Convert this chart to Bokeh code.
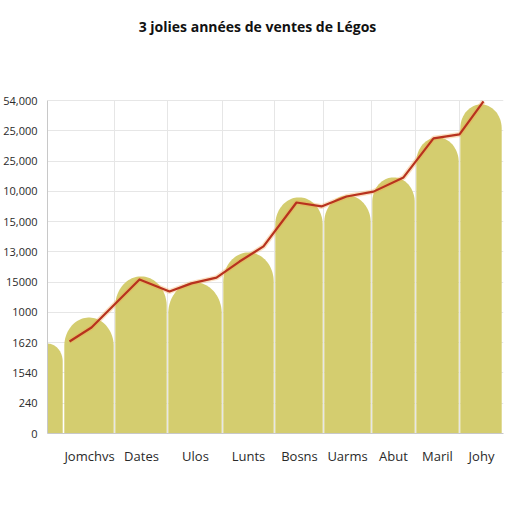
import numpy as np
from bokeh.plotting import figure
from bokeh.models import Range1d, FixedTicker
from bokeh.core.properties import value
from bokeh.embed import file_html
from bokeh.resources import INLINE

# ---- data ----
title_text = "3 jolies années de ventes de Légos"
y_tick_labels = ["0", "240", "1540", "1620", "1000", "15000", "13,000",
                 "15,000", "10,000", "25,000", "25,000", "54,000"]
x_labels = ["Jomchvs", "Dates", "Ulos", "Lunts", "Bosns", "Uarms", "Abut", "Maril", "Johy"]

bar_values = [2.97, 3.83, 5.19, 4.99, 5.98, 7.80, 7.86, 8.46, 9.78, 10.87]
bar_widths = [32, 51, 53, 55, 52, 49, 48, 44, 44, 43]

line_x = [22, 44, 69, 92, 122, 144, 169, 192, 216, 249, 274, 299, 326, 356, 386, 412, 436]
line_y = [3.04, 3.50, 4.33, 5.09, 4.69, 4.96, 5.15, 5.68, 6.18, 7.63, 7.50, 7.83,
          7.99, 8.46, 9.75, 9.88, 10.97]

# ---- layout ----
PX_PER_Y = 333 / 11
FW, FH = 456, 423
X0, X1 = 0, 456
Y0, YMAX = 0, 11
Y1 = FH / PX_PER_Y

p = figure(frame_width=FW, frame_height=FH, output_backend="svg", toolbar_location=None,
           x_range=Range1d(X0, X1), y_range=Range1d(Y0, Y1),
           min_border_left=39, min_border_right=1, min_border_top=10, min_border_bottom=55)
p.outline_line_color = None
p.background_fill_color = "white"

edges = np.concatenate([[-bar_widths[0] / 2], -bar_widths[0] / 2 + np.cumsum(bar_widths)])

# vertical grid lines at bar boundaries, limited to the value area
ge = [float(e) for e in edges[2:-1]]
p.segment(x0=ge, y0=[Y0] * len(ge), x1=ge, y1=[YMAX] * len(ge), line_color="#e6e6e6", line_width=1)

# bars with domed tops
xs, ys = [], []
for i, (h, w) in enumerate(zip(bar_values, bar_widths)):
    l, r = edges[i] + 0.8, edges[i + 1] - 0.8
    c = (l + r) / 2
    a = (r - l) / 2
    rise = (w * 0.56) / PX_PER_Y
    t = np.linspace(np.pi, 0, 48)
    dx = c + a * np.cos(t)
    dy = (h - rise) + rise * np.sin(t)
    xs.append(list(np.concatenate([[l], dx, [r]])))
    ys.append(list(np.concatenate([[0], dy, [0]])))
p.patches(xs, ys, fill_color="#d4cd6f", line_color=None)

# line with glow
p.line(line_x, line_y, line_color="#f2a550", line_width=5, line_alpha=0.35)
p.line(line_x, line_y, line_color="#b8321e", line_width=2.2, line_join="round")

# title inside the top band of the canvas
title_y = YMAX + 74 / PX_PER_Y
p.text(x=[(X0 + X1) / 2 - 18], y=[title_y], text=[title_text], text_align="center",
       text_baseline="middle", text_font=value("Open Sans"), text_font_size="14px",
       text_font_style="bold", text_color="#111111")

# axes
centers = [int(round((edges[i] + edges[i + 1]) / 2)) for i in range(1, len(bar_widths))]
p.xaxis.ticker = FixedTicker(ticks=centers)
p.xaxis.major_label_overrides = {c: lab for c, lab in zip(centers, x_labels)}
p.yaxis.ticker = FixedTicker(ticks=list(range(0, 12)))
p.yaxis.major_label_overrides = {i: lab for i, lab in enumerate(y_tick_labels)}
p.yaxis.bounds = (Y0, YMAX)

for ax in (p.xaxis, p.yaxis):
    ax.major_tick_line_color = None
    ax.minor_tick_line_color = None
    ax.axis_line_color = "#c8c8c8"
    ax.major_label_text_font = "Open Sans"
    ax.major_label_text_color = "#2a2a2a"
p.xaxis.major_label_text_font_size = "13px"
p.xaxis.major_label_standoff = 7
p.yaxis.major_label_text_font_size = "11px"
p.yaxis.major_label_standoff = 4

p.xgrid.visible = False
p.ygrid.ticker = FixedTicker(ticks=list(range(1, 12)))
p.ygrid.grid_line_color = "#e6e6e6"

open("out.html", "w").write(file_html(p, INLINE))
